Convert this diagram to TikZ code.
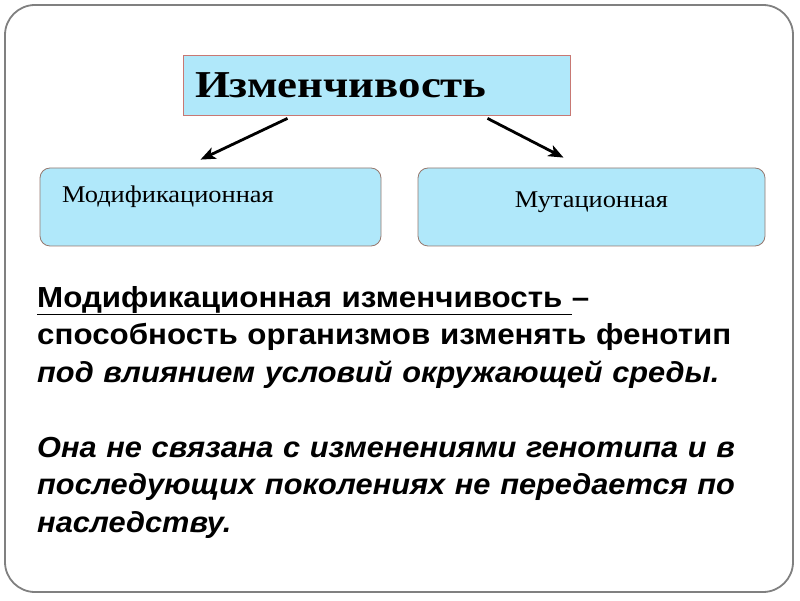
\documentclass[tikz,border=0pt]{standalone}
\usepackage{fontspec}
\setmainfont[FakeStretch=1.1]{Liberation Serif}
\newfontfamily\titlefont[FakeStretch=1.18]{Liberation Serif}
\newfontfamily\bodyfont[FakeStretch=1.08, BoldItalicFeatures={FakeStretch=1.06}]{Liberation Sans}
\usepackage{tikz}
\usetikzlibrary{positioning,arrows.meta}
\definecolor{boxblue}{RGB}{176,232,250}
\definecolor{boxedge}{RGB}{150,120,110}
\definecolor{topedge}{RGB}{200,120,115}
\definecolor{frameedge}{RGB}{128,128,128}
\tikzstyle{titlebox} = [rectangle, fill=boxblue, draw=topedge, line width=0.8pt, minimum width=387pt, minimum height=60pt, text width=363pt, inner xsep=12pt, align=left, font=\titlefont\fontsize{38}{42}\selectfont\bfseries]
\tikzstyle{kindbox} = [rectangle, rounded corners=10pt, fill=boxblue, draw=boxedge, line width=0.8pt, minimum height=78pt, text height=17pt, font=\fontsize{24}{28}\selectfont]
\tikzstyle{link} = [-{Stealth[length=15pt,width=12pt,inset=4pt]}, line width=2.8pt]

\begin{document}
\begin{tikzpicture}[x=1pt,y=1pt]
			\useasboundingbox (0,0) rectangle (800,600);
			\draw[frameedge, line width=1.8pt, rounded corners=30pt] (5,8) rectangle (793,595);
			
			\node (izm) [titlebox] at (376.5,515) {Изменчивость};
			
			\node (mod) [kindbox, minimum width=341pt, text width=297pt, align=left, text depth=25pt] at (210.5,393) {Модификационная};
			\node (mut) [kindbox, minimum width=347pt, align=center, text depth=15pt] at (591.5,393) {Мутационная};
			
			\draw[link] ([xshift=-89pt,yshift=-3pt]izm.south) -- ([xshift=-10pt,yshift=8pt]mod.north);
			\draw[link] ([xshift=111pt,yshift=-3pt]izm.south) -- ([xshift=-28pt,yshift=10pt]mut.north);
			
			\node (def) [anchor=north west, inner sep=0pt, text width=750pt, align=left, font=\bodyfont\bfseries\fontsize{29}{37.5}\selectfont] at (37,314) {%
				\underline{Модификационная изменчивость\ }–\\
				способность организмов изменять фенотип\\
				\itshape под влиянием условий окружающей среды.\\[37.5pt]
				\itshape Она не связана с изменениями генотипа и в\\
				\itshape последующих поколениях не передается по\\
				\itshape наследству.};
			
\end{tikzpicture}
\end{document}
